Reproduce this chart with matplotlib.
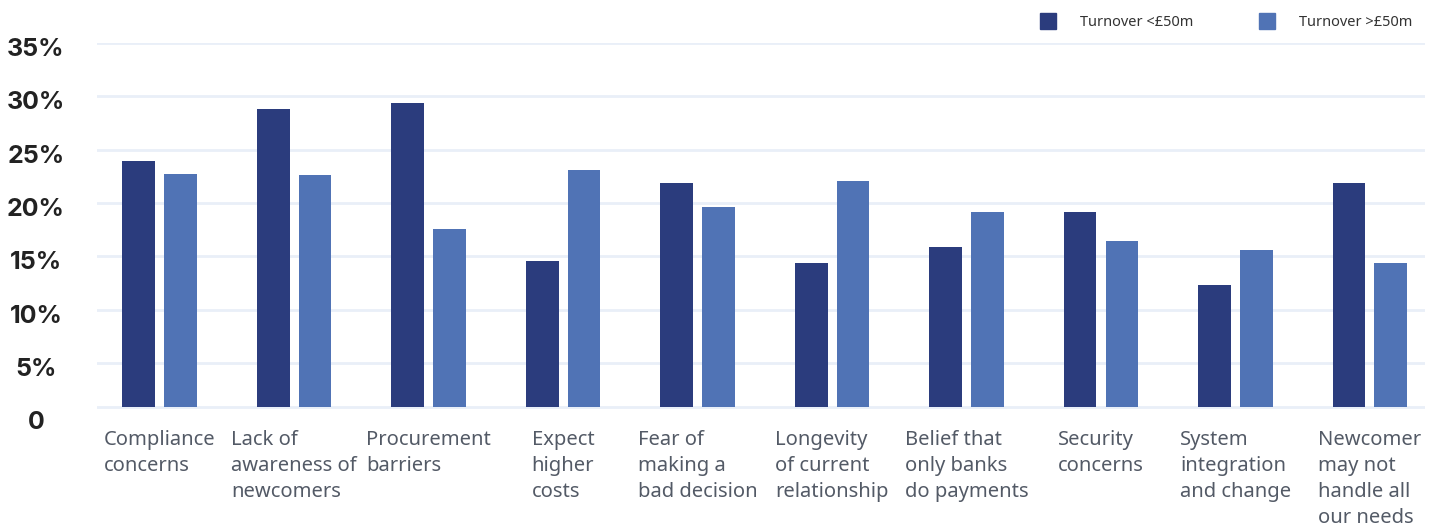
import matplotlib.pyplot as plt
import numpy as np
from matplotlib.lines import Line2D
import matplotlib.transforms as mtransforms

# data
categories = ['Compliance\nconcerns', 'Lack of\nawareness of\nnewcomers', 'Procurement\nbarriers',
              'Expect\nhigher\ncosts', 'Fear of\nmaking a\nbad decision', 'Longevity\nof current\nrelationship',
              'Belief that\nonly banks\ndo payments', 'Security\nconcerns', 'System\nintegration\nand change',
              'Newcomer\nmay not\nhandle all\nour needs']
small_turnover = [23.9, 28.8, 29.4, 14.6, 21.9, 14.4, 15.9, 19.2, 12.3, 21.9]
large_turnover = [22.7, 22.6, 17.6, 23.1, 19.6, 22.1, 19.2, 16.4, 15.6, 14.4]
series_names = ['Turnover <£50m', 'Turnover >£50m']
yticks = [0, 5, 10, 15, 20, 25, 30, 35]
ytick_labels = ['0', '5%', '10%', '15%', '20%', '25%', '30%', '35%']

dark = '#2b3c7d'
light = '#5073b5'
grid_col = '#e9eff8'
base = 0.85  # chart baseline sits a bit above zero

W, H = 1444, 526
fig = plt.figure(figsize=(W / 100, H / 100), dpi=100)
ax = fig.add_axes([97 / W, 1 - 416.3 / H, (1425 - 97) / W, (416.3 - 43) / H])

x = np.arange(len(categories))
bw = 0.245
off = 0.156
ax.bar(x - off, np.array(small_turnover) - base, bw, bottom=base, color=dark, zorder=3)
ax.bar(x + off, np.array(large_turnover) - base, bw, bottom=base, color=light, zorder=3)

ax.set_xlim(-0.465, 9.409)
ax.set_ylim(0, 35)
ax.set_yticks(yticks)
ax.set_yticklabels(ytick_labels, fontfamily='Inter', fontweight='bold', fontsize=18, color='#222222')
ax.tick_params(axis='y', length=0, pad=44)
for lab in ax.get_yticklabels():
    lab.set_horizontalalignment('center')
    lab.set_transform(lab.get_transform() + mtransforms.ScaledTranslation(0, -4 / 100, fig.dpi_scale_trans))
ax.set_xticks([])
ax.grid(axis='y', color=grid_col, linewidth=2, zorder=0)
ax.get_ygridlines()[0].set_visible(False)
ax.axhline(base, color=grid_col, linewidth=2, zorder=1)
for s in ax.spines.values():
    s.set_visible(False)

trans = mtransforms.blended_transform_factory(ax.transData, ax.transAxes)
for i, lab in enumerate(categories):
    ax.text(i, -0.037, lab, transform=trans, ha='center', va='top', multialignment='left',
            fontsize=14.5, fontfamily='Noto Sans', color='#535a66', linespacing=1.4)

handles = [Line2D([], [], marker='s', linestyle='none', markersize=11, color=c) for c in (dark, light)]
fig.legend(handles, series_names, loc='upper right', bbox_to_anchor=(1426 / W, 1 - 2 / H),
           ncol=2, frameon=False, handletextpad=1.2, columnspacing=4.1,
           labelcolor='#333333', prop={'family': 'Noto Sans', 'size': 10.5})

fig.savefig('out.png', dpi=100, facecolor='white')
